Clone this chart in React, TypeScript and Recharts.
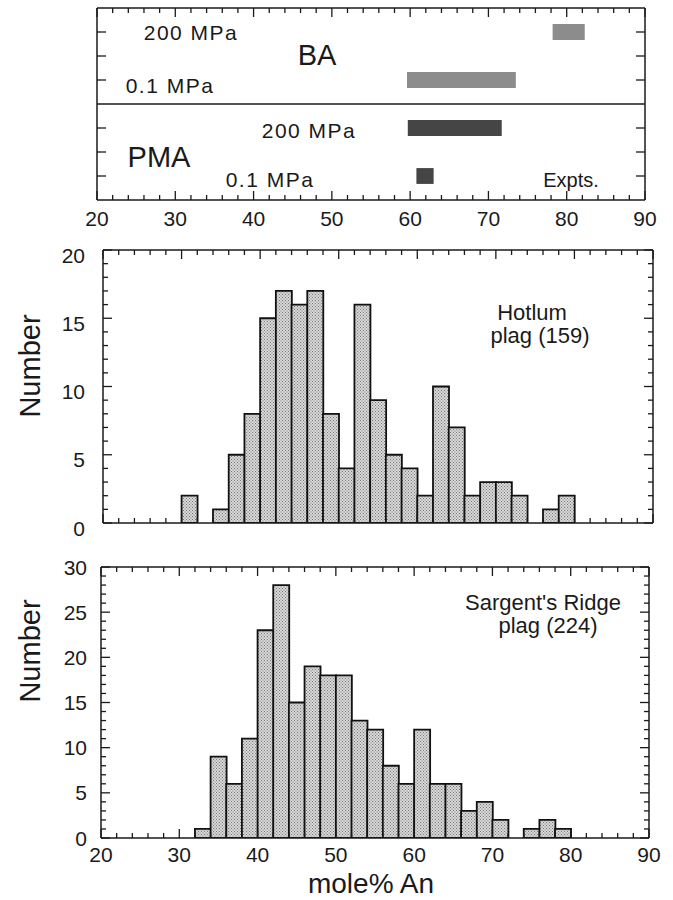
import React from 'react';
import { ComposedChart, Bar, XAxis, YAxis, ReferenceArea, ReferenceLine } from 'recharts';

// 2 mol% bins, 20..90
const binStarts = [20, 22, 24, 26, 28, 30, 32, 34, 36, 38, 40, 42, 44, 46, 48, 50, 52, 54, 56, 58, 60, 62, 64, 66, 68, 70, 72, 74, 76, 78, 80, 82, 84, 86, 88];
const hotlumCounts = [0, 0, 0, 0, 0, 2, 0, 1, 5, 8, 15, 17, 16, 17, 8, 4, 16, 9, 5, 4, 2, 10, 7, 2, 3, 3, 2, 0, 1, 2, 0, 0, 0, 0, 0];
const sargentCounts = [0, 0, 0, 0, 0, 0, 1, 9, 6, 11, 23, 28, 15, 19, 18, 18, 13, 12, 8, 6, 12, 6, 6, 3, 4, 2, 0, 1, 2, 1, 0, 0, 0, 0, 0];

const xTickLabels = [20, 30, 40, 50, 60, 70, 80, 90];
const hotlumYTicks = [0, 5, 10, 15, 20];
const sargentYTicks = [0, 5, 10, 15, 20, 25, 30];

// experiment ranges (top panel)
const exptRow = [7, 5, 3, 1];
const exptFrom = [78.2, 59.6, 59.7, 60.8];
const exptTo = [82.3, 73.5, 71.7, 63];
const exptColor = ['#8c8c8c', '#8c8c8c', '#454545', '#454545'];

const hotlumData = binStarts.map((b, i) => ({ bin: b, n: hotlumCounts[i] }));
const sargentData = binStarts.map((b, i) => ({ bin: b, n: sargentCounts[i] }));
const exptData = exptRow.map((r, i) => ({ row: r, from: exptFrom[i], to: exptTo[i] }));

const FONT = "'Liberation Sans', Arial, Helvetica, sans-serif";
const INK = '#1a1a1a';
const W = 673;
const H = 900;

const range = (a: number, b: number, s: number) => {
  const out: number[] = [];
  for (let v = a; v <= b + 1e-9; v += s) out.push(Math.round(v * 100) / 100);
  return out;
};

const line = { stroke: INK, strokeWidth: 1.5 };

// tick mark drawn inward from the frame, optional label outside
function XTick(props: any) {
  const { x, y, payload, dir, label, labelGap } = props;
  const v = payload.value;
  const major = xTickLabels.includes(v);
  const len = major ? 9 : 5;
  return (
    <g>
      <line x1={x} x2={x} y1={y} y2={y + dir * len} stroke={INK} strokeWidth={1.3} />
      {label && major && (
        <text x={x} y={y + labelGap + 7.5} textAnchor="middle" fontSize={21} fontFamily={FONT} fill={INK}>{v}</text>
      )}
    </g>
  );
}

function YTick(props: any) {
  const { x, y, payload, dir, majors, labels, gap, dy } = props;
  const v = payload.value;
  const major = majors.includes(v);
  const len = major ? 9 : 5;
  return (
    <g>
      <line x1={x} x2={x + dir * len} y1={y} y2={y} stroke={INK} strokeWidth={1.3} />
      {labels && labels.includes(v) && (
        <text x={x - gap} y={y + 7.5 + (dy || 0)} textAnchor="end" fontSize={21} fontFamily={FONT} fill={INK}>{v}</text>
      )}
    </g>
  );
}

function frame(o: {
  xKey: string;
  yMax: number;
  yTicks: number[];
  yMajor: number[];
  yLabels?: number[];
  yGap?: number;
  yDy?: number;
  xLabels?: boolean;
  xGap?: number;
}) {
  const xt = range(20, 90, 2);
  return [
    <XAxis key="xb" xAxisId="xb" dataKey={o.xKey} type="number" domain={[20, 90]} allowDataOverflow interval={0}
      orientation="bottom" mirror ticks={xt} tickSize={0} tickMargin={0} axisLine={line} tickLine={false}
      tick={(p: any) => <XTick {...p} dir={-1} label={o.xLabels} labelGap={o.xGap ?? 12} />} />,
    <XAxis key="xt" xAxisId="xt" dataKey={o.xKey} type="number" domain={[20, 90]} allowDataOverflow interval={0}
      orientation="top" mirror ticks={xt} tickSize={0} tickMargin={0} axisLine={line} tickLine={false}
      tick={(p: any) => <XTick {...p} dir={1} label={false} />} />,
    <YAxis key="yl" yAxisId="yl" type="number" domain={[0, o.yMax]} allowDataOverflow interval={0}
      orientation="left" mirror ticks={o.yTicks} tickSize={0} tickMargin={0} axisLine={line} tickLine={false}
      tick={(p: any) => <YTick {...p} dir={1} majors={o.yMajor} labels={o.yLabels} gap={o.yGap ?? 16} dy={o.yDy} />} />,
    <YAxis key="yr" yAxisId="yr" type="number" domain={[0, o.yMax]} allowDataOverflow interval={0}
      orientation="right" mirror ticks={o.yTicks} tickSize={0} tickMargin={0} axisLine={line} tickLine={false}
      tick={(p: any) => <YTick {...p} dir={-1} majors={o.yMajor} />} />,
  ];
}

function Stipple({ id }: { id: string }) {
  return (
    <defs>
      <pattern id={id} width="3" height="3" patternUnits="userSpaceOnUse">
        <rect width="3" height="3" fill="#d8d8d8" />
        <rect width="1" height="1" fill="#777" />
        <rect x="1.5" y="1.5" width="1" height="1" fill="#777" />
      </pattern>
    </defs>
  );
}

function Note({ x, y, size, children, ls = 0 }: { x: number; y: number; size: number; children: React.ReactNode; ls?: number }) {
  return (
    <div style={{
      position: 'absolute', left: x, top: y, transform: 'translate(-50%, -50%)', whiteSpace: 'nowrap',
      fontFamily: FONT, fontSize: size, lineHeight: 1, color: INK, letterSpacing: ls,
    }}>{children}</div>
  );
}

function VLabel({ x, y, children }: { x: number; y: number; children: React.ReactNode }) {
  return (
    <div style={{
      position: 'absolute', left: x, top: y, transform: 'translate(-50%, -50%) rotate(-90deg)', whiteSpace: 'nowrap',
      fontFamily: FONT, fontSize: 29, lineHeight: 1, color: INK,
    }}>{children}</div>
  );
}

const layer: React.CSSProperties = { position: 'absolute', left: 0, top: 0 };

export default function App() {
  return (
    <div style={{ position: 'absolute', left: 0, top: 0, width: W, height: H, background: '#fff', overflow: 'hidden' }}>
      {/* experiments panel */}
      <div style={layer}>
        <ComposedChart width={W} height={H} data={exptData} margin={{ top: 8, left: 97, right: W - 645, bottom: H - 200 }}>
          {frame({ xKey: 'from', yMax: 8, yTicks: [1, 2, 3, 5, 6, 7], yMajor: [1, 2, 3, 5, 6, 7], xLabels: true, xGap: 18 })}
          <ReferenceLine xAxisId="xb" yAxisId="yl" y={4} stroke={INK} strokeWidth={1.5} />
          {exptData.map((d, i) => (
            <ReferenceArea key={i} xAxisId="xb" yAxisId="yl" x1={d.from} x2={d.to} y1={d.row - 0.33} y2={d.row + 0.33}
              fill={exptColor[i]} fillOpacity={1} stroke="none" />
          ))}
        </ComposedChart>
      </div>

      {/* Hotlum */}
      <div style={layer}>
        <ComposedChart width={W} height={H} data={hotlumData} barCategoryGap={0} barGap={0}
          margin={{ top: 250, left: 103, right: W - 653, bottom: H - 523 }}>
          <Stipple id="stipA" />
          <XAxis xAxisId="cat" dataKey="bin" type="category" hide />
          {frame({ xKey: 'bin', yMax: 20, yTicks: range(0, 20, 1), yMajor: hotlumYTicks, yLabels: hotlumYTicks, yDy: 5, yGap: 18 })}
          <Bar xAxisId="cat" yAxisId="yl" dataKey="n" fill="url(#stipA)" stroke="#111" strokeWidth={1.8} isAnimationActive={false} />
        </ComposedChart>
      </div>

      {/* Sargent's Ridge */}
      <div style={layer}>
        <ComposedChart width={W} height={H} data={sargentData} barCategoryGap={0} barGap={0}
          margin={{ top: 567, left: 101, right: W - 649, bottom: H - 838 }}>
          <Stipple id="stipB" />
          <XAxis xAxisId="cat" dataKey="bin" type="category" hide />
          {frame({ xKey: 'bin', yMax: 30, yTicks: range(0, 30, 1), yMajor: sargentYTicks, yLabels: sargentYTicks, xLabels: true, xGap: 16, yGap: 14 })}
          <Bar xAxisId="cat" yAxisId="yl" dataKey="n" fill="url(#stipB)" stroke="#111" strokeWidth={1.8} isAnimationActive={false} />
        </ComposedChart>
      </div>

      {/* annotations */}
      <Note x={191} y={32} size={21} ls={1.5}>200 MPa</Note>
      <Note x={317} y={55} size={29}>BA</Note>
      <Note x={170} y={85} size={21} ls={1.5}>0.1 MPa</Note>
      <Note x={309} y={130} size={21} ls={1.5}>200 MPa</Note>
      <Note x={159} y={157} size={29}>PMA</Note>
      <Note x={270} y={179} size={21} ls={1.5}>0.1 MPa</Note>
      <Note x={571} y={180} size={20}>Expts.</Note>

      <Note x={532} y={313} size={22}>Hotlum</Note>
      <Note x={540} y={336} size={22}>plag (159)</Note>
      <Note x={543} y={603} size={22}>Sargent's Ridge</Note>
      <Note x={548} y={626} size={22}>plag (224)</Note>

      <VLabel x={30} y={366}>Number</VLabel>
      <VLabel x={30} y={651}>Number</VLabel>
      <Note x={371} y={884} size={28}>mole% An</Note>
    </div>
  );
}
